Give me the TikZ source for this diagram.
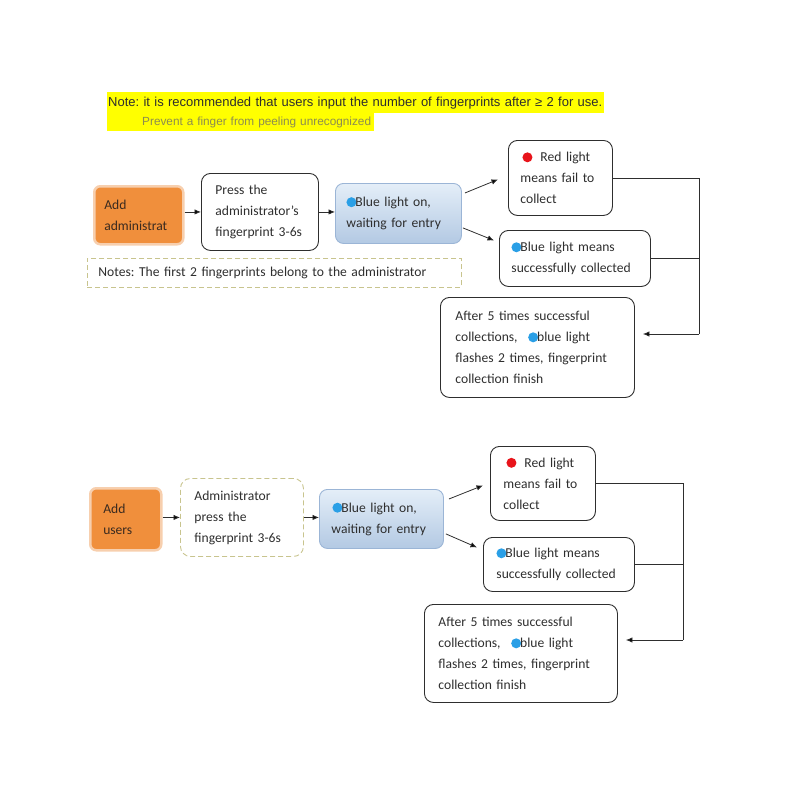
\documentclass[tikz,border=0pt]{standalone}
\usepackage{fontspec}
\setmainfont{Carlito}
\newfontfamily\arialf{Liberation Sans}
\usetikzlibrary{arrows.meta,shadows}
\definecolor{dotblue}{HTML}{2A9FE6}
\definecolor{dotred}{HTML}{E8141B}
\definecolor{orfill}{HTML}{F08F3C}
\definecolor{orrim}{HTML}{F7CFAE}
\definecolor{ortext}{HTML}{3A2A1F}
\definecolor{bluetop}{HTML}{E4EEF8}
\definecolor{bluebot}{HTML}{B3C9E3}
\definecolor{blueedge}{HTML}{9BB5D6}
\definecolor{khaki}{HTML}{C8C48E}
\definecolor{ink}{HTML}{2E2E2E}
\definecolor{hl}{HTML}{FFFF00}
\definecolor{hltext}{HTML}{8C8C50}
\newcommand\bdot{\tikz[baseline={(0,-4.3pt)}]\fill[dotblue] (0,0) circle (5pt);}
\newcommand\rdot{\tikz[baseline={(0,-4.3pt)}]\fill[dotred] (0,0) circle (5pt);}
\frenchspacing
\begin{document}
\begin{tikzpicture}[x=1pt,y=-1pt,
  font=\fontsize{13.6}{21}\selectfont, text=ink,
  box/.style={draw=ink, line width=0.9pt, rounded corners=9pt, anchor=north west, align=left, inner ysep=0pt},
  orbox/.style={fill=orfill, draw=orrim, line width=2.5pt, rounded corners=6pt, anchor=north west, align=left, inner ysep=0pt, text=ortext},
  bluebox/.style={top color=bluetop, bottom color=bluebot, draw=blueedge, line width=0.9pt, rounded corners=8pt, anchor=north west, align=left, inner ysep=0pt},
  dbox/.style={draw=khaki, line width=0.9pt, dash pattern=on 5pt off 3pt, anchor=north west, align=left, inner ysep=0pt},
  arr/.style={-{Latex[length=6.5pt,width=5.5pt]}, draw=ink, line width=0.8pt},
  conn/.style={draw=ink, line width=0.8pt}]
\useasboundingbox (0,0) rectangle (800,800);

% top note
\node[fill=hl, anchor=north west, minimum width=497, minimum height=21, text width=495, inner xsep=1pt, inner ysep=0pt, align=left,
  font=\arialf\fontsize{13.0}{14}\selectfont, text=ink] (note1) at (107,92)
  {Note: it is recommended that users input the number of fingerprints after ≥ 2 for use.};
\node[fill=hl, anchor=north west, minimum width=267, minimum height=18, text width=265, inner xsep=1pt, inner ysep=0pt, align=left,
  font=\arialf\fontsize{11.8}{13}\selectfont, text=hltext] (note2) at (107,113)
  {\hspace*{34pt}Prevent a finger from peeling unrecognized};

% ---------- section 1 ----------
\node[orbox, minimum width=89, minimum height=58, text width=69, inner xsep=10pt] (add) at (93,185) {Add\\administrat};
\node[box, minimum width=117, minimum height=77, text width=89, inner xsep=14pt] (press) at (201,173) {Press the\\administrator’s\\fingerprint 3-6s};
\node[bluebox, minimum width=126, minimum height=60, text width=104, inner xsep=11pt] (entry) at (335,183) {\bdot\hspace{-1pt}Blue light on,\\waiting for entry};
\node[box, minimum width=104, minimum height=75, text width=80, inner xsep=12pt] (red) at (508,140) {\hspace*{2pt}\rdot\hspace{8pt}Red light\\means fail to\\collect};
\node[box, minimum width=151, minimum height=56, text width=127, inner xsep=12pt] (bm) at (499,230) {\bdot\hspace{-1pt}Blue light means\\successfully collected};
\node[box, minimum width=194, minimum height=100, text width=164, inner xsep=15pt] (after) at (440,297) {After 5 times successful\\collections, \hspace{6pt}\bdot\hspace{-1pt}blue light\\flashes 2 times, fingerprint\\collection finish};
\node[dbox, minimum width=374, minimum height=29, text width=352, inner xsep=11pt] (notes) at (87,258) {Notes: The first 2 fingerprints belong to the administrator};

\draw[arr] (press.west -| add.east) -- (press.west);
\draw[arr] (press.east) -- (press.east -| entry.west);
\draw[arr] ([shift={(3,10)}]entry.north east) -- ([shift={(-10,1.5)}]red.west);
\draw[arr] ([shift={(1,-16)}]entry.south east) -- ([shift={(-5,-18)}]bm.west);
\coordinate (j1) at (699,334);
\draw[conn] (red.east) -| (j1);
\draw[conn] (bm.east) -- (bm.east -| j1);
\draw[arr] (j1) -- ([xshift=8]after.east |- j1);

% ---------- section 2 ----------
\node[orbox, minimum width=71, minimum height=62, text width=45, inner xsep=13pt] (addu) at (89,487) {Add\\users};
\node[dbox, rounded corners=10pt, minimum width=123, minimum height=78, text width=95, inner xsep=14pt] (adm) at (180,478) {Administrator\\press the\\fingerprint 3-6s};
\node[bluebox, minimum width=124, minimum height=59, text width=100, inner xsep=12pt] (entry2) at (319,489) {\hspace*{1pt}\bdot\hspace{-1pt}Blue light on,\\waiting for entry};
\node[box, minimum width=105, minimum height=74, text width=79, inner xsep=13pt] (red2) at (490,446) {\hspace*{3pt}\rdot\hspace{8pt}Red light\\means fail to\\collect};
\node[box, minimum width=151, minimum height=54, text width=125, inner xsep=13pt] (bm2) at (483,537) {\bdot\hspace{-1pt}Blue light means\\successfully collected};
\node[box, minimum width=193, minimum height=98, text width=165, inner xsep=14pt] (after2) at (424,604) {After 5 times successful\\collections, \hspace{6pt}\bdot\hspace{-1pt}blue light\\flashes 2 times, fingerprint\\collection finish};

\draw[arr] (adm.west -| addu.east) -- (adm.west);
\draw[arr] (adm.east) -- (adm.east -| entry2.west);
\draw[arr] ([shift={(5,10)}]entry2.north east) -- ([shift={(-7,2)}]red2.west);
\draw[arr] ([shift={(2,-15)}]entry2.south east) -- ([shift={(-6,-17)}]bm2.west);
\coordinate (j2) at (683,640);
\draw[conn] (red2.east) -| (j2);
\draw[conn] (bm2.east) -- (bm2.east -| j2);
\draw[arr] (j2) -- ([xshift=8]after2.east |- j2);
\end{tikzpicture}
\end{document}
